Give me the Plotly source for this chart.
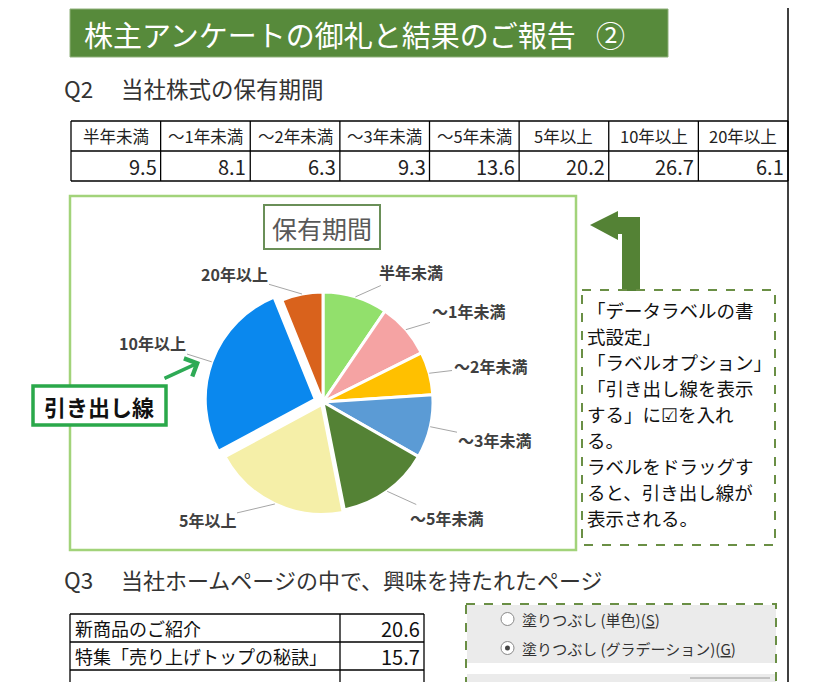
import numpy as np
import plotly.graph_objects as go

# Q2 data
periods = ["半年未満", "～1年未満", "～2年未満", "～3年未満", "～5年未満", "5年以上", "10年以上", "20年以上"]
table_heads = ["半年未満", "～1年未満", "～2年未満", "～3年未満", "～5年未満", "5年以上", "10年以上", "20年以上"]
shares = [9.5, 8.1, 6.3, 9.3, 13.6, 20.2, 26.7, 6.1]
slice_colors = ["#92e06c", "#f5a3a3", "#ffc000", "#5b9bd5", "#548235", "#f5efa8", "#0a88ee", "#d9621c"]

# Q3 data
q3_pages = ["新商品のご紹介", "特集「売り上げトップの秘訣」", ""]
q3_shares = ["20.6", "15.7", ""]

note_lines = ["「データラベルの書", "式設定」", "「ラベルオプション」", "「引き出し線を表示",
              "する」に☑を入れ", "る。", "ラベルをドラッグす", "ると、引き出し線が", "表示される。"]

W, H = 815, 682
OFF = 8  # page body margin
JP = "Noto Sans CJK JP"
cx, cy, r = 323, 402, 110
pull = [0, 0, 0, 0, 0, 0.025, 0.075, 0]
half = r * (1 + max(pull))


def px(x):
    return (x - OFF) / W


def py(y):
    return 1 - (y - OFF) / H


def P(**kw):
    # shape given in page pixels (y from top) -> paper
    d = dict(xref="paper", yref="paper")
    for k, v in kw.items():
        if k in ("x0", "x1"):
            d[k] = px(v)
        elif k in ("y0", "y1"):
            d[k] = py(v)
        else:
            d[k] = v
    return d


def T(x, y, text, **kw):
    d = dict(xref="paper", yref="paper", x=px(x), y=py(y), text=text, showarrow=False,
             xanchor="center", yanchor="middle")
    d.update(kw)
    return d


fig = go.Figure()
fig.add_trace(go.Pie(
    values=shares, labels=periods, sort=False, direction="clockwise", rotation=0,
    marker=dict(colors=slice_colors, line=dict(color="white", width=3)),
    textinfo="none", pull=pull, showlegend=False, hoverinfo="label+value",
    domain=dict(x=[px(cx - half), px(cx + half)], y=[py(cy + half), py(cy - half)]),
))

shapes = []
ann = []

# title banner
shapes.append(P(type="rect", x0=70, x1=668, y0=9, y1=57, fillcolor="#578a3b", line=dict(color="#8fb07a", width=1)))
ann.append(T(82, 34, "株主アンケートの御礼と結果のご報告", xanchor="left",
             font=dict(family=JP, size=29, color="white")))
ann.append(T(610, 34, "②", font=dict(family=JP, size=29, color="white")))

ann.append(T(62, 88, "Q2", xanchor="left", font=dict(family=JP, size=22.5, color="#333333")))
ann.append(T(119, 88, "当社株式の保有期間", xanchor="left", font=dict(family=JP, size=22.5, color="#333333")))

# Q2 table
tx0, tx1 = 71, 788
cw = (tx1 - tx0) / len(table_heads)
for yy in [121, 151, 181]:
    shapes.append(P(type="line", x0=tx0, x1=tx1, y0=yy, y1=yy, line=dict(color="black", width=1.3)))
for i in range(len(table_heads) + 1):
    shapes.append(P(type="line", x0=tx0 + i * cw, x1=tx0 + i * cw, y0=121, y1=181, line=dict(color="black", width=1.3)))
for i, (h, v) in enumerate(zip(table_heads, shares)):
    ann.append(T(tx0 + (i + 0.5) * cw, 136, h, font=dict(family=JP, size=16.5, color="#222222")))
    ann.append(T(tx0 + (i + 1) * cw - 2, 166, f"{v:.1f}", xanchor="right",
                 font=dict(family=JP, size=20, color="#222222")))

# chart frame
shapes.append(P(type="rect", x0=70, x1=576, y0=196, y1=550, line=dict(color="#a2d37a", width=2.5)))
shapes.append(P(type="rect", x0=264, x1=380, y0=205, y1=249, line=dict(color="#6a8f58", width=2)))
ann.append(T(322, 228, "保有期間", font=dict(family=JP, size=25, color="#595959")))

# pie labels with leader lines
label_pos = [(411, 272), (468, 311), (490, 366), (495, 440), (446, 518), (207, 520), (152, 343), (234, 274)]
total = sum(shares)
cum = np.cumsum([0] + shares[:-1])
for name, v, c0, p, (lx, ly) in zip(periods, shares, cum, pull, label_pos):
    th = np.radians((c0 + v / 2) / total * 360)
    rr = r * (1 + p)
    ex, ey = cx + rr * np.sin(th), cy - rr * np.cos(th)
    ann.append(T(ex, ey, f"<b>{name}</b>", showarrow=True, ax=lx - ex, ay=ly - ey,
                 arrowhead=0, arrowwidth=1, arrowcolor="#a6a6a6", standoff=0,
                 font=dict(family=JP, size=16, color="#404040")))

# 引き出し線 callout
shapes.append(P(type="rect", x0=33, x1=166, y0=386, y1=425, fillcolor="white", line=dict(color="#2aa84a", width=3.5)))
ann.append(T(99, 406, "<b>引き出し線</b>", font=dict(family=JP, size=22, color="#111111")))
ann.append(T(200, 362, "", showarrow=True, ax=163 - 200, ay=379 - 362, arrowhead=4,
             arrowwidth=3.5, arrowsize=1.1, arrowcolor="#2eaa55"))

# bent arrow
pts = [(590, 225), (618, 211), (618, 217), (640, 217), (640, 291), (622, 291), (622, 234), (618, 234), (618, 240)]
path = "M" + " L".join(f"{px(a):.5f},{py(b):.5f}" for a, b in pts) + " Z"
shapes.append(dict(type="path", xref="paper", yref="paper", path=path, fillcolor="#548235", line=dict(width=0)))

# note box
shapes.append(P(type="rect", x0=582, x1=775, y0=290, y1=545, line=dict(color="#6a8f45", width=2, dash="dash")))
for k, t in enumerate(note_lines):
    ann.append(T(585, 310 + k * 26, t, xanchor="left", font=dict(family=JP, size=18.5, color="#111111")))

# page border
shapes.append(P(type="line", x0=788, x1=788, y0=0, y1=H + OFF, line=dict(color="black", width=1.5)))

# Q3
ann.append(T(62, 579, "Q3", xanchor="left", font=dict(family=JP, size=22.5, color="#333333")))
ann.append(T(119, 579, "当社ホームページの中で、興味を持たれたページ", xanchor="left",
             font=dict(family=JP, size=22, color="#333333")))
for yy in [614, 642, 670]:
    shapes.append(P(type="line", x0=70, x1=424, y0=yy, y1=yy, line=dict(color="black", width=1.3)))
for xx in [70, 340, 424]:
    shapes.append(P(type="line", x0=xx, x1=xx, y0=614, y1=H + OFF, line=dict(color="black", width=1.3)))
for k, (pg, sv) in enumerate(zip(q3_pages, q3_shares)):
    if pg:
        ann.append(T(73, 628 + k * 28, pg, xanchor="left", font=dict(family=JP, size=18, color="#111111")))
    if sv:
        ann.append(T(422, 628 + k * 28, sv, xanchor="right", font=dict(family=JP, size=20, color="#111111")))

# fill options panel
shapes.append(P(type="rect", x0=467, x1=776, y0=605, y1=663, fillcolor="#ebebeb", line=dict(width=0)))
shapes.append(P(type="rect", x0=467, x1=776, y0=674, y1=H + OFF, fillcolor="#ebebeb", line=dict(width=0)))
shapes.append(P(type="line", x0=690, x1=770, y0=678, y1=678, line=dict(color="#9a9a9a", width=1)))
shapes.append(P(type="rect", x0=466, x1=776, y0=604, y1=H + OFF + 5, line=dict(color="#6a8f45", width=2, dash="dash")))
for k, opt in enumerate(["塗りつぶし (単色)(<span style='text-decoration:underline'>S</span>)",
                         "塗りつぶし (グラデーション)(<span style='text-decoration:underline'>G</span>)"]):
    yy = 619 + k * 29
    shapes.append(P(type="circle", x0=501, x1=514, y0=yy - 6.5, y1=yy + 6.5, fillcolor="white",
                    line=dict(color="#8a8a8a", width=1)))
    if k == 1:
        shapes.append(P(type="circle", x0=505, x1=510, y0=yy - 2.5, y1=yy + 2.5, fillcolor="#444444",
                        line=dict(width=0)))
    ann.append(T(520, yy, opt, xanchor="left", font=dict(family=JP, size=15, color="#333333")))

fig.update_layout(
    width=W, height=H, margin=dict(l=0, r=0, t=0, b=0, autoexpand=False),
    paper_bgcolor="white", plot_bgcolor="white",
    shapes=shapes, annotations=ann,
)
fig.write_html("out.html")
